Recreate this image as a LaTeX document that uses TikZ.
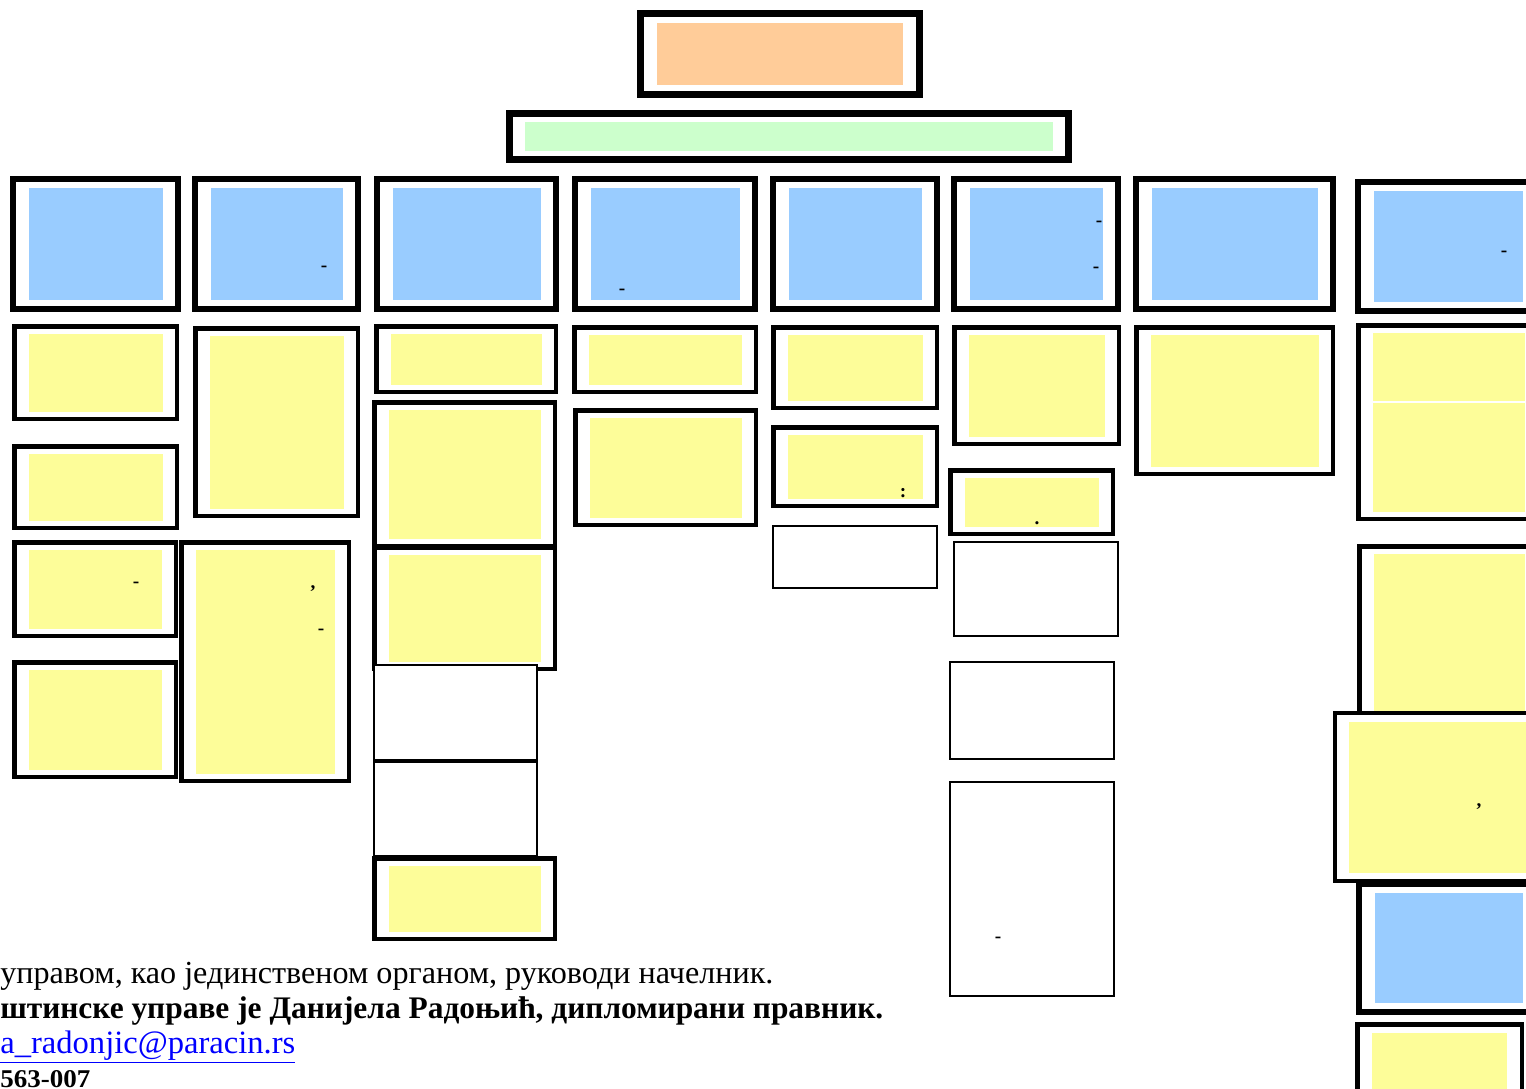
\documentclass[tikz,border=0pt]{standalone}
\usepackage{fontspec}
\setmainfont{Liberation Serif}
\usepackage{graphicx}
\usepackage{xcolor}
\definecolor{orgorange}{RGB}{255,204,153}
\definecolor{orggreen}{RGB}{204,255,204}
\definecolor{orgblue}{RGB}{153,204,255}
\definecolor{orgyellow}{RGB}{253,253,153}
\definecolor{maillink}{RGB}{0,0,255}
\newlength{\pxu}
\setlength{\pxu}{0.02cm}
\tikzstyle{boxframe} = [rectangle, draw=black, fill=white, inner sep=0pt]
\tikzstyle{boxfill} = [rectangle, inner sep=0pt]
\tikzstyle{thinbox} = [rectangle, draw=black, fill=white, line width=1.8*\pxu, inner sep=0pt]
\tikzstyle{fragment} = [inner sep=0pt, font=\fontsize{11}{13}\selectfont\bfseries]
\tikzstyle{footline} = [anchor=base west, inner sep=0pt]
% name, x1, y1, x2, y2, border, inset x, inset y, colour
\newcommand{\orgbox}[9]{%
  \node[boxframe, line width=#6*\pxu, minimum width={(#4-#2-#6)*\pxu}, minimum height={(#5-#3-#6)*\pxu}] (#1) at ({(#2+#4)/2},{(#3+#5)/2}) {};
  \node[boxfill, fill=#9, minimum width={(#4-#2-2*#7)*\pxu}, minimum height={(#5-#3-2*#8)*\pxu}] (#1-in) at (#1.center) {};
}
\begin{document}
\begin{tikzpicture}[x=0.02cm, y=-0.02cm]
\useasboundingbox (0,0) rectangle (1526,1089);
\clip (0,0) rectangle (1526,1089);
% head and office
\orgbox{head}{637}{10}{923}{98}{7}{20}{13}{orgorange}
\orgbox{office}{506}{110}{1072}{163}{7}{19}{12}{orggreen}
% departments
\foreach \n/\xa/\ya/\xb/\yb in {dep1/10/176/181/312, dep2/192/176/361/312, dep3/374/176/559/312, dep4/572/176/758/312, dep5/770/176/940/312, dep6/951/176/1121/312, dep7/1133/176/1336/312, dep8/1355/179/1541/314, dep9/1356/881/1541/1015}
  {\orgbox{\n}{\xa}{\ya}{\xb}{\yb}{6}{18.5}{12}{orgblue}}
% sections
\foreach \n/\xa/\ya/\xb/\yb in {sec1a/12/324/179/421, sec1b/12/444/179/530, sec1c/12/540/178/638, sec1d/12/660/178/779, sec2a/193/326/360/518, sec2b/179/540/351/783, sec3a/374/324/558/394, sec3b/372/400/557/548, sec3c/372/545/557/671, sec4a/572/325/758/394, sec4b/573/408/758/527, sec5a/771/325/939/410, sec5b/771/425/939/508, sec6a/952/325/1121/446, sec6b/948/468/1115/536, sec7a/1134/325/1335/476, sec8a/1356/323/1541/521, sec8b/1357/544/1541/720}
  {\orgbox{\n}{\xa}{\ya}{\xb}{\yb}{4.5}{16.5}{9.5}{orgyellow}}
\draw[white, line width=1.2*\pxu] (sec8a-in.west |- 0,402) -- (sec8a-in.east |- 0,402);
\orgbox{sec8c}{1333}{711}{1541}{883}{4}{15.5}{10.5}{orgyellow}
\orgbox{sec8e}{1355}{1022}{1524}{1106}{4.5}{17}{11}{orgyellow}
% empty boxes
\foreach \n/\xa/\ya/\xb/\yb in {emp3d/373/664/538/761, emp3e/373/761/538/857, emp5c/772/525/938/589, emp6c/953/541/1119/637, emp6d/949/661/1115/760, emp6e/949/781/1115/997}
  \node[thinbox, minimum width={(\xb-\xa-1.8)*\pxu}, minimum height={(\yb-\ya-1.8)*\pxu}] (\n) at ({(\xa+\xb)/2},{(\ya+\yb)/2}) {};
\orgbox{sec3f}{372}{856}{557}{941}{4.5}{16.5}{9.5}{orgyellow}
% stray glyphs
\node[fragment] (f1) at (324,269) {-};
\node[fragment] (f2) at (622,292) {-};
\node[fragment] (f3) at (1099,224) {-};
\node[fragment] (f4) at (1096,270) {-};
\node[fragment] (f5) at (1504,254) {-};
\node[fragment] (f6) at (136,585) {-};
\node[fragment] (f7) at (313,589) {,};
\node[fragment] (f8) at (321,632) {-};
\node[fragment] (f9) at (903,493) {:};
\node[fragment] (f10) at (1037,523) {.};
\node[fragment] (f11) at (998,940) {-};
\node[fragment] (f12) at (1479,807) {,};
% footer text
\node[footline] (line1) at (0,983) {\resizebox{773\pxu}{!}{\fontsize{18}{22}\selectfont управом, као јединственом органом, руководи начелник.}};
\node[footline] (line2) at (0,1018) {\resizebox{883\pxu}{!}{\fontsize{18}{22}\selectfont\bfseries штинске управе је Данијела Радоњић, дипломирани правник.}};
\node[footline] (line3) at (0,1053) {\resizebox{295\pxu}{!}{\fontsize{18}{22}\selectfont\color{maillink}\underline{a\_radonjic@paracin.rs}}};
\node[footline] (line4) at (0,1087) {\resizebox{90\pxu}{17\pxu}{\fontsize{18}{22}\selectfont\bfseries 563-007}};
\end{tikzpicture}
\end{document}
